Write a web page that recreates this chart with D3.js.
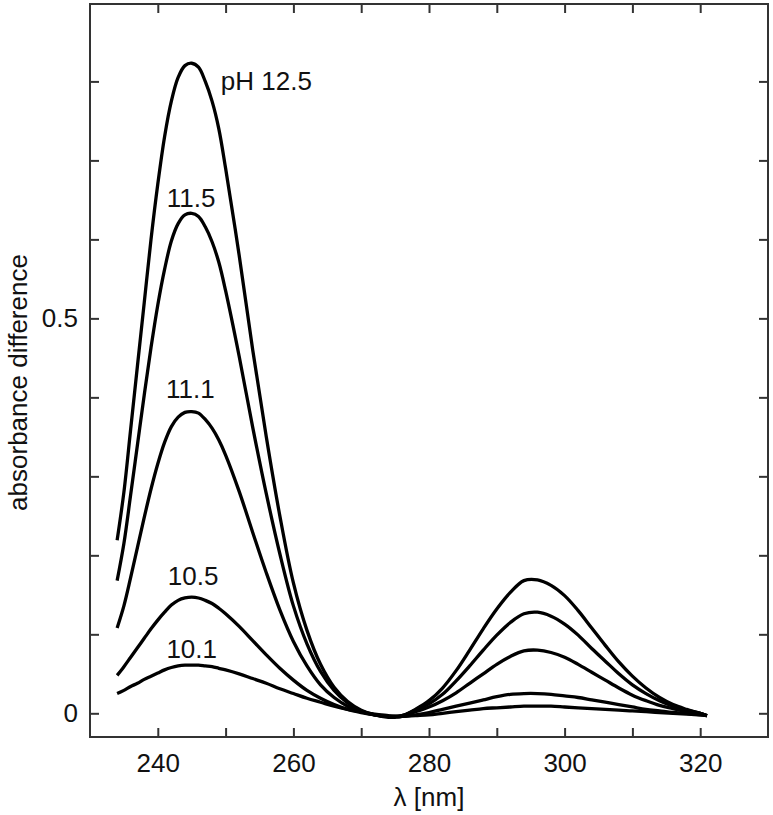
<!DOCTYPE html>
<html>
<head>
<meta charset="utf-8">
<script src="https://cdn.jsdelivr.net/npm/d3@7/dist/d3.min.js"></script>
<style>
  html, body { margin: 0; padding: 0; background: #fff; }
  svg { display: block; }
  text { font-family: "Liberation Sans", Arial, Helvetica, sans-serif; fill: #111; }
</style>
</head>
<body>
<svg id="chart" width="773" height="815"></svg>
<script>
// ---------- data ----------
const wavelengths = [234,235,236,237,238,239,240,241,242,243,244,245,246,247,248,249,250,
  252,254,256,258,260,262,264,266,268,270,272,274,275,276,278,280,282,284,286,288,290,292,294,296,
  298,300,302,304,306,308,310,312,314,316,318,320,321];

const pH12_5 = [0.219,0.280,0.360,0.440,0.520,0.600,0.670,0.730,0.775,0.805,0.820,0.823,0.818,0.800,0.775,0.740,0.690,
  0.580,0.460,0.350,0.250,0.165,0.105,0.062,0.033,0.015,0.004,-0.002,-0.005,-0.005,-0.004,0.005,0.016,0.032,0.054,0.080,0.107,0.132,0.153,0.168,0.169,
  0.162,0.149,0.130,0.108,0.086,0.065,0.047,0.032,0.020,0.011,0.005,0.000,-0.003];

const pH11_5 = [0.168,0.215,0.277,0.340,0.403,0.463,0.517,0.562,0.598,0.620,0.631,0.633,0.629,0.616,0.597,0.571,0.535,
  0.452,0.362,0.278,0.202,0.136,0.088,0.053,0.029,0.013,0.003,-0.002,-0.004,-0.004,-0.003,0.004,0.012,0.024,0.041,0.060,0.080,0.099,0.115,0.126,0.128,
  0.123,0.113,0.099,0.082,0.066,0.050,0.036,0.025,0.016,0.009,0.004,0.000,-0.003];

const pH11_1 = [0.108,0.136,0.172,0.210,0.248,0.284,0.316,0.343,0.363,0.375,0.381,0.382,0.380,0.372,0.361,0.346,0.327,
  0.281,0.229,0.178,0.131,0.091,0.060,0.036,0.020,0.009,0.002,-0.002,-0.004,-0.004,-0.003,0.002,0.008,0.016,0.026,0.038,0.050,0.062,0.072,0.079,0.080,
  0.077,0.071,0.062,0.052,0.042,0.032,0.023,0.016,0.010,0.006,0.002,0.000,-0.003];

const pH10_5 = [0.048,0.059,0.071,0.083,0.095,0.107,0.118,0.128,0.137,0.143,0.146,0.147,0.146,0.143,0.139,0.133,0.126,
  0.110,0.092,0.074,0.057,0.042,0.029,0.019,0.011,0.005,0.001,-0.002,-0.004,-0.004,-0.004,-0.002,0.001,0.005,0.009,0.013,0.017,0.021,0.024,0.025,0.025,
  0.024,0.022,0.020,0.017,0.014,0.011,0.008,0.005,0.003,0.001,0.000,-0.002,-0.003];

const pH10_1 = [0.025,0.029,0.034,0.038,0.043,0.047,0.051,0.055,0.058,0.060,0.061,0.061,0.061,0.060,0.059,0.057,0.055,
  0.050,0.044,0.038,0.031,0.025,0.019,0.014,0.009,0.005,0.002,-0.001,-0.003,-0.004,-0.004,-0.003,-0.002,0.000,0.002,0.004,0.006,0.007,0.008,0.009,0.009,
  0.009,0.008,0.007,0.006,0.005,0.004,0.003,0.002,0.001,0.000,-0.001,-0.002,-0.003];

const seriesValues = [pH12_5, pH11_5, pH11_1, pH10_5, pH10_1];
const seriesLabels = ["pH 12.5", "11.5", "11.1", "10.5", "10.1"];
// label anchor points in data units (wavelength, absorbance)
const labelLambda = [249.3, 244.9, 244.8, 245.2, 245.0];
const labelValue  = [0.789, 0.641, 0.399, 0.162, 0.070];
const labelAnchor = ["start", "middle", "middle", "middle", "middle"];

const xDomain = [230, 330];
const yDomain = [-0.03, 0.898];
const xTicks = [240, 250, 260, 270, 280, 290, 300, 310, 320];
const xTickLabels = [240, 260, 280, 300, 320];
const yTicks = [0, 0.1, 0.2, 0.3, 0.4, 0.5, 0.6, 0.7, 0.8];
const yTickLabels = [0, 0.5];
const xTitle = "λ [nm]";
const yTitle = "absorbance difference";

// ---------- layout ----------
const svg = d3.select("#chart");
const L = 90, R = 768, T = 4, B = 737;
const x = d3.scaleLinear().domain(xDomain).range([L, R]);
const y = d3.scaleLinear().domain(yDomain).range([B, T]);
const FS = 26;
const axisColor = "#333";

function styleAxis(g) {
  g.select(".domain").remove();
  g.selectAll(".tick line").attr("stroke", axisColor).attr("stroke-width", 2);
  g.selectAll(".tick text").attr("font-size", FS).attr("fill", "#111")
    .attr("font-family", '"Liberation Sans", Arial, sans-serif');
}

const fmtX = d => xTickLabels.includes(d) ? String(d) : "";
const fmtY = d => yTickLabels.includes(d) ? (d === 0 ? "0" : String(d)) : "";

svg.append("g").attr("transform", `translate(0,${B})`)
  .call(d3.axisBottom(x).tickValues(xTicks).tickSizeInner(-9).tickSizeOuter(0).tickPadding(17).tickFormat(fmtX))
  .call(styleAxis);
svg.append("g").attr("transform", `translate(0,${T})`)
  .call(d3.axisTop(x).tickValues(xTicks).tickSizeInner(-9).tickSizeOuter(0).tickFormat(""))
  .call(styleAxis);
svg.append("g").attr("transform", `translate(${L},0)`)
  .call(d3.axisLeft(y).tickValues(yTicks).tickSizeInner(-9).tickSizeOuter(0).tickPadding(12).tickFormat(fmtY))
  .call(styleAxis);
svg.append("g").attr("transform", `translate(${R},0)`)
  .call(d3.axisRight(y).tickValues(yTicks).tickSizeInner(-9).tickSizeOuter(0).tickFormat(""))
  .call(styleAxis);

svg.append("rect").attr("x", L).attr("y", T).attr("width", R - L).attr("height", B - T)
  .attr("fill", "none").attr("stroke", axisColor).attr("stroke-width", 2);

// ---------- curves ----------
const line = d3.line()
  .x((d, i) => x(wavelengths[i]))
  .y(d => y(d))
  .curve(d3.curveCatmullRom.alpha(0.5));

svg.append("g").selectAll("path").data(seriesValues).join("path")
  .attr("d", d => line(d))
  .attr("fill", "none").attr("stroke", "#000").attr("stroke-width", 3.3)
  .attr("stroke-linejoin", "round");

svg.append("g").selectAll("text").data(seriesLabels).join("text")
  .attr("x", (d, i) => x(labelLambda[i]))
  .attr("y", (d, i) => y(labelValue[i]))
  .attr("text-anchor", (d, i) => labelAnchor[i])
  .attr("font-size", FS)
  .text(d => d);

// ---------- titles ----------
svg.append("text").attr("x", (L + R) / 2).attr("y", 806).attr("text-anchor", "middle")
  .attr("font-size", FS).text(xTitle);
svg.append("text").attr("transform", `translate(27,${(T + B) / 2 + 12}) rotate(-90)`)
  .attr("text-anchor", "middle").attr("font-size", FS).text(yTitle);
</script>
</body>
</html>
